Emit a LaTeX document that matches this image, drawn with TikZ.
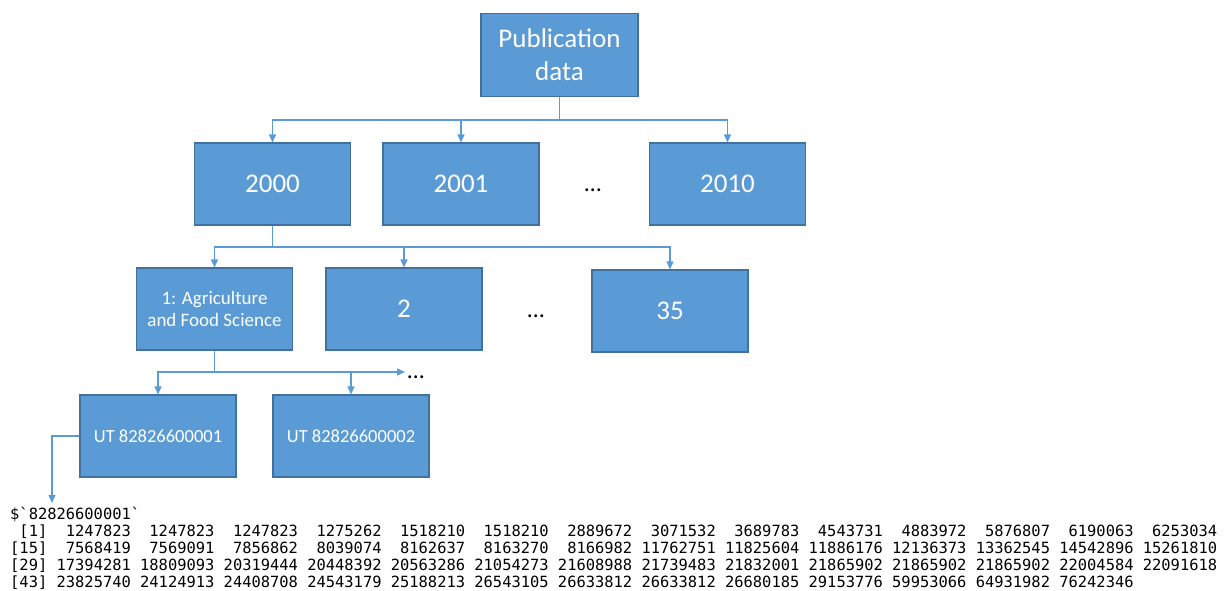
\documentclass[tikz,border=0pt]{standalone}
\usepackage{fontspec}
\setmainfont{Carlito}
\newfontfamily\consolefont{DejaVu Sans Mono}
\usetikzlibrary{arrows.meta}
\definecolor{boxfill}{HTML}{5B9BD5}
\definecolor{boxedge}{HTML}{41719C}
% console output: fixed character cells
\newlength\chw
\setlength\chw{9.285pt}
\newcommand\rfont{\consolefont\fontsize{15.42}{17}\selectfont}
\newcommand\ridx[1]{\makebox[4\chw][r]{#1}}
\newcommand\rval[1]{\makebox[9\chw][r]{#1}}
\newcommand\rrow[2]{\ridx{#1}\foreach \v in {#2}{\rval{\v}}}
\begin{document}
\begin{tikzpicture}[x=1pt,y=-1pt,
  box/.style={draw=boxedge, line width=1.1pt, fill=boxfill, text=white,
    minimum width=156pt, minimum height=82pt, inner sep=0pt, align=center,
    font=\fontsize{27}{33}\selectfont},
  smallbox/.style={box, font=\fontsize{19}{22.5}\selectfont},
  utbox/.style={box, font=\fontsize{18.5}{22}\selectfont},
  dots/.style={inner sep=0pt, text=black, font=\fontsize{24}{28}\selectfont},
  link/.style={draw=boxfill, line width=1.3pt},
  arr/.style={link, -{Triangle[length=8pt,width=7pt]}},
  rowtext/.style={anchor=base west, inner sep=0pt, font=\rfont}]
\useasboundingbox (0,0) rectangle (1228,590);

% tree of boxes
\node[box, minimum width=157pt, minimum height=83pt] (top) at (559.5,55) {Publication\\data};
\node[box] (y2000) at (272.5,184) {2000};
\node[box] (y2001) at (461,184) {2001};
\node[box] (y2010) at (727.5,184) {2010};
\node[dots] (ydots) at (593,190) {…};

\node[smallbox] (agri) at (214.5,309) {1: Agriculture\\and Food Science};
\node[box] (s2) at (404,309) {2};
\node[box] (s35) at (670,311) {35};
\node[dots] (sdots) at (536,316) {…};

\node[utbox] (ut1) at (158,436) {UT 82826600001};
\node[utbox] (ut2) at (351,436) {UT 82826600002};
\node[dots] (udots) at (416,377) {…};

% connectors
\coordinate (bus1) at (559.5,120);
\draw[link] (top.south) -- (bus1);
\draw[arr] (bus1) -| (y2000.north);
\draw[arr] (bus1) -| (y2001.north);
\draw[arr] (bus1) -| (y2010.north);

\coordinate (bus2) at (272.5,247);
\draw[link] (y2000.south) -- (bus2);
\draw[arr] (bus2) -| (agri.north);
\draw[arr] (bus2) -| (s2.north);
\draw[arr] (bus2) -| (s35.north);

\coordinate (bus3) at (214.5,372);
\coordinate (more) at (405,372);
\draw[link] (agri.south) -- (bus3);
\draw[arr] (bus3) -| (ut1.north);
\draw[arr] (bus3) -| (ut2.north);
\draw[arr] (bus3) -- (more);

\coordinate (outtip) at (52,503);
\draw[arr] (ut1.west) -| (outtip);

% printed vector of the first record
\node[rowtext] (r0) at (10,519) {\$\symbol{96}82826600001\symbol{96}};
\node[rowtext] (r1) at (10,536) {\rrow{[1]}{1247823,1247823,1247823,1275262,1518210,1518210,2889672,3071532,3689783,4543731,4883972,5876807,6190063,6253034}};
\node[rowtext] (r2) at (10,553) {\rrow{[15]}{7568419,7569091,7856862,8039074,8162637,8163270,8166982,11762751,11825604,11886176,12136373,13362545,14542896,15261810}};
\node[rowtext] (r3) at (10,570) {\rrow{[29]}{17394281,18809093,20319444,20448392,20563286,21054273,21608988,21739483,21832001,21865902,21865902,21865902,22004584,22091618}};
\node[rowtext] (r4) at (10,587) {\rrow{[43]}{23825740,24124913,24408708,24543179,25188213,26543105,26633812,26633812,26680185,29153776,59953066,64931982,76242346}};
\end{tikzpicture}
\end{document}
